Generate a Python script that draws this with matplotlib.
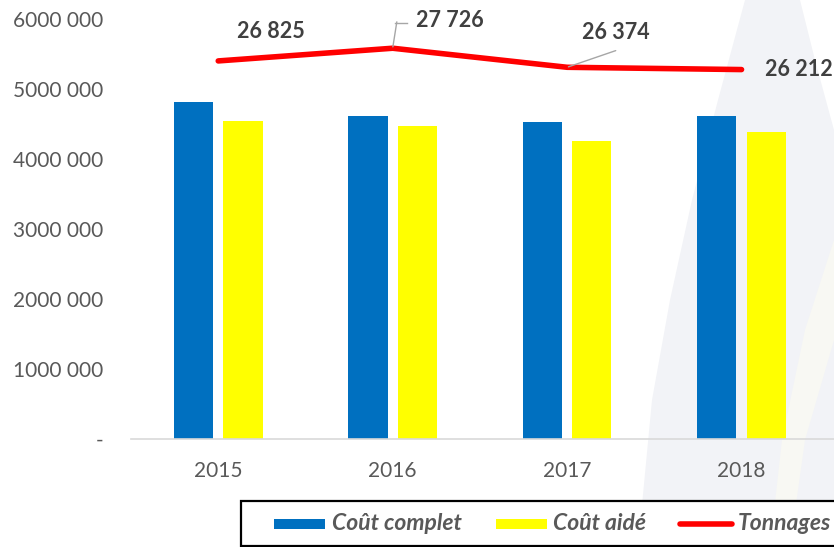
import matplotlib.pyplot as plt
import matplotlib.patches as patches
from matplotlib.lines import Line2D

# data
years = ['2015', '2016', '2017', '2018']
cout_complet = [4810000, 4614000, 4530000, 4610000]
cout_aide = [4547000, 4470000, 4257000, 4390000]
tonnages = [26825, 27726, 26374, 26212]
yticks = [0, 1000000, 2000000, 3000000, 4000000, 5000000, 6000000]
ytick_labels = ['-', '1000 000', '2000 000', '3000 000', '4000 000', '5000 000', '6000 000']
series_names = ['Coût complet', 'Coût aidé', 'Tonnages']

FONT = 'Lato'
GREY = '#595959'
DARK = '#404040'
BLUE = '#0070C0'
YELLOW = '#FFFF00'
RED = '#FF0000'
W, H = 834, 547

fig = plt.figure(figsize=(W / 100, H / 100), dpi=100, facecolor='white')


def px(x, y):
    # pixel coords (top-left origin) -> figure fraction
    return (x / W, 1 - y / H)


# faint watermark band in the background
band = [(745, 0), (718, 100), (692, 200), (670, 300), (652, 400), (638, 547),
        (834, 547), (834, 130), (815, 60), (800, 0)]
fig.patches.append(patches.Polygon([px(*p) for p in band], closed=True,
                                   transform=fig.transFigure, facecolor='#F2F3F7',
                                   edgecolor='none', zorder=-2))
pale = [(834, 240), (805, 330), (782, 440), (770, 547), (790, 547), (805, 440), (834, 340)]
fig.patches.append(patches.Polygon([px(*p) for p in pale], closed=True,
                                   transform=fig.transFigure, facecolor='#F8F8F3',
                                   edgecolor='none', zorder=-1))

ax = fig.add_axes([131 / W, 108 / H, 703 / W, 420 / H])
ax.set_facecolor('none')

x = list(range(len(years)))
bw = 0.225
off = 0.142
ax.bar([i - off for i in x], cout_complet, width=bw, color=BLUE, zorder=2)
ax.bar([i + off for i in x], cout_aide, width=bw, color=YELLOW, zorder=2)

ax.set_xlim(-0.5, 3.53)
ax.set_ylim(0, 6000000)
ax.set_xticks(x)
ax.set_xticklabels(years, fontsize=15, color=GREY, family=FONT)
ax.set_yticks(yticks)
ax.set_yticklabels(ytick_labels, fontsize=15, color=GREY, family=FONT)
ax.tick_params(axis='x', length=0, pad=16)
ax.tick_params(axis='y', length=0, pad=20)
for s in ['top', 'right', 'left']:
    ax.spines[s].set_visible(False)
ax.spines['bottom'].set_color('#D9D9D9')
ax.spines['bottom'].set_linewidth(1.2)

# tonnages on a hidden secondary axis
ax2 = ax.twinx()
ax2.set_ylim(0, 29800)
ax2.axis('off')
ax2.plot(x, tonnages, color=RED, linewidth=4.0, solid_capstyle='round', zorder=3)

lbl = dict(fontsize=15.5, fontweight='bold', color=DARK, family=FONT)
ax2.annotate('26 825', (0, tonnages[0]), xytext=(38, 21), textcoords='offset points',
             ha='center', va='center', **lbl)
ax2.annotate('27 726', (1, tonnages[1]), xytext=(17, 20), textcoords='offset points',
             ha='left', va='center', **lbl)
ax2.annotate('26 374', (2, tonnages[2]), xytext=(35, 25), textcoords='offset points',
             ha='center', va='center', **lbl)
ax2.annotate('26 212', (3, tonnages[3]), xytext=(17, 0), textcoords='offset points',
             ha='left', va='center', **lbl)

# leader lines
ax2.annotate('', (1, tonnages[1]), xytext=(3, 19), textcoords='offset points',
             arrowprops=dict(arrowstyle='-', color='#A6A6A6', linewidth=1.0, shrinkA=0, shrinkB=1))
fig.add_artist(Line2D([395 / W, 407 / W], [1 - 23 / H, 1 - 23 / H], color='#A6A6A6', linewidth=1.0))
ax2.annotate('', (2, tonnages[2]), xytext=(35, 12), textcoords='offset points',
             arrowprops=dict(arrowstyle='-', color='#A6A6A6', linewidth=1.0, shrinkA=0, shrinkB=1))

# legend, drawn by hand so the box can run past the right edge like the original
frame = patches.Rectangle(px(241, 546), 700 / W, 45 / H, transform=fig.transFigure,
                          facecolor='white', edgecolor='black', linewidth=1.6, zorder=5)
fig.add_artist(frame)
ly = 524
leg_font = dict(fontsize=16.5, fontweight='bold', style='italic', color=GREY, family=FONT,
                va='center', ha='left', zorder=6)
fig.add_artist(patches.Rectangle(px(274, ly + 5), 51 / W, 10 / H, transform=fig.transFigure,
                                 facecolor=BLUE, edgecolor='none', zorder=6))
fig.text(*px(332, ly), series_names[0], **leg_font)
fig.add_artist(patches.Rectangle(px(496, ly + 5), 51 / W, 10 / H, transform=fig.transFigure,
                                 facecolor=YELLOW, edgecolor='none', zorder=6))
fig.text(*px(553, ly), series_names[1], **leg_font)
fig.add_artist(Line2D([px(680, ly)[0], px(732, ly)[0]], [px(680, ly)[1]] * 2, color=RED,
                      linewidth=4.0, solid_capstyle='round', zorder=6))
fig.text(*px(738, ly), series_names[2], **leg_font)

fig.savefig('out.png', dpi=100)
